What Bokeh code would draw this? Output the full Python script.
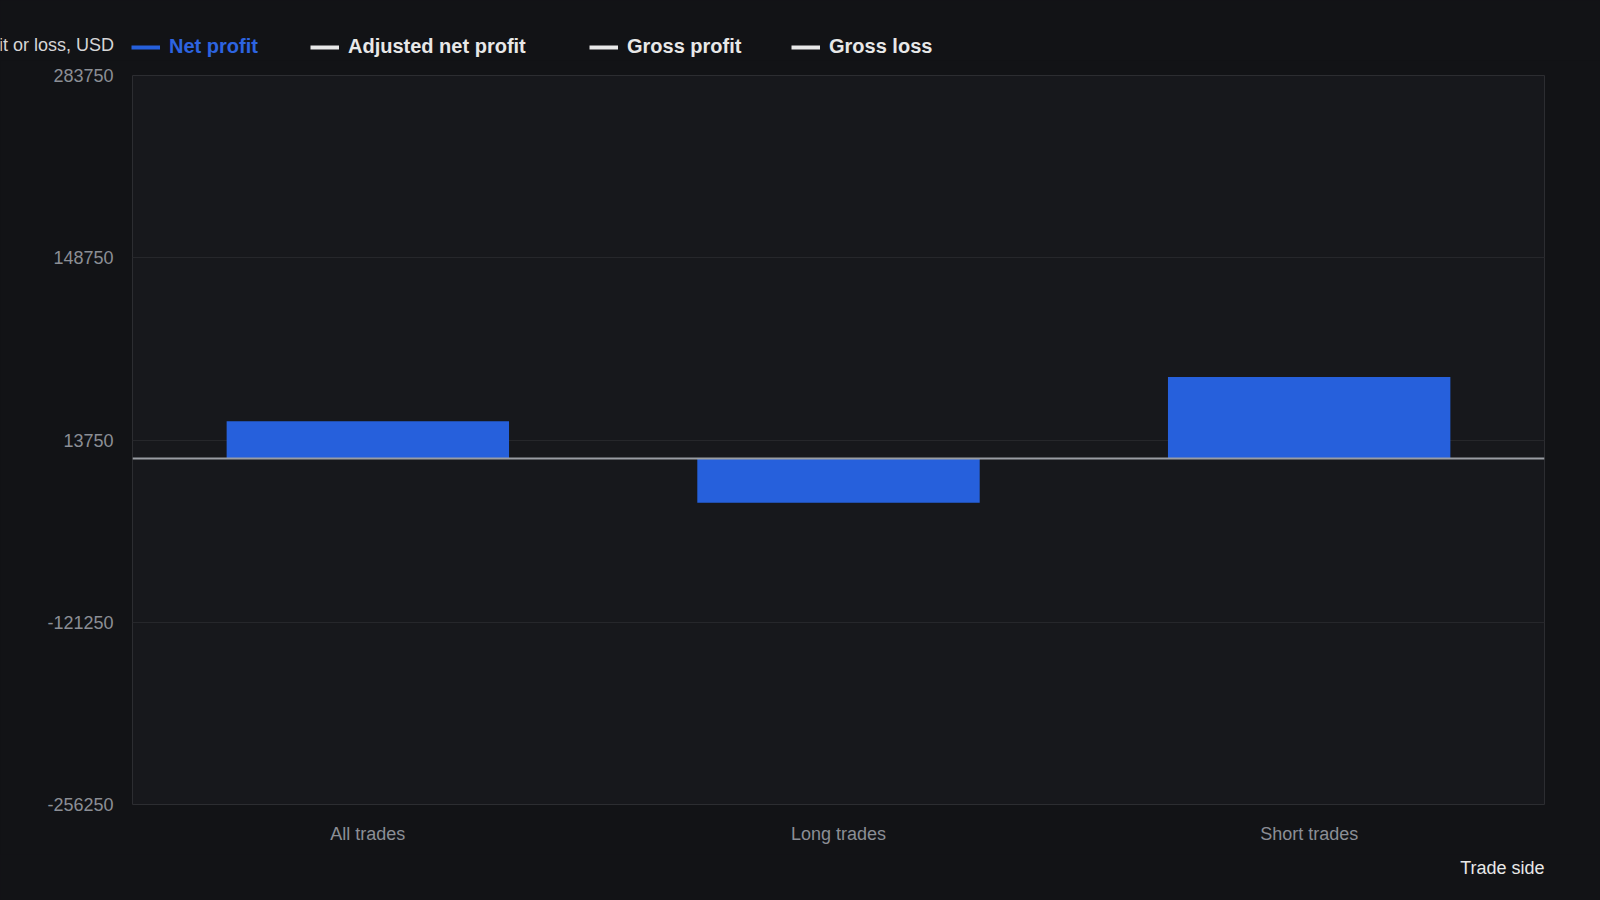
from bokeh.plotting import figure
from bokeh.layouts import column
from bokeh.models import (ColumnDataSource, FactorRange, Range1d, FixedTicker, Span,
                          Legend, LegendItem, Label, PrintfTickFormatter)
from bokeh.embed import file_html
from bokeh.resources import INLINE

# ---- data ----
categories = ["All trades", "Long trades", "Short trades"]
net_profit = [27700, -32650, 60350]
y_ticks = [-256250, -121250, 13750, 148750, 283750]
legend_labels = ["Net profit", "Adjusted net profit", "Gross profit", "Gross loss"]
y_title = "Net profit or loss, USD"
x_title = "Trade side"

FONT = "Liberation Sans"
BG_OUT = "#121316"
BG_IN = "#17181c"
BLUE = "#2660dc"
GREY_TXT = "#8b8e95"
WHITE = "#e8e8e8"

W = 1600
HEAD_H = 60
MT, MB = 15, 50
FH = 729
MAIN_H = MT + FH + MB
FOOT_H = 900 - HEAD_H - MAIN_H
ML, MR = 132, 56
FW = W - ML - MR


def blank(h):
    f = figure(width=W, height=h, output_backend="svg", toolbar_location=None,
               x_range=Range1d(0, W), y_range=Range1d(0, h),
               x_axis_location=None, y_axis_location=None, min_border=0,
               frame_align=False)
    f.background_fill_color = BG_OUT
    f.border_fill_color = BG_OUT
    f.outline_line_color = None
    f.grid.visible = False
    return f


# ---- header: legend and y title ----
head = blank(HEAD_H)
legend_colors = [BLUE, WHITE, WHITE, WHITE]
legend_text_colors = ["#2d64e0", WHITE, WHITE, WHITE]
legend_x = [131, 310, 589, 791]
nan = float("nan")
for lab, lc, tc, lx in zip(legend_labels, legend_colors, legend_text_colors, legend_x):
    r = head.line(x=[nan, nan], y=[nan, nan], line_color=lc, line_width=4)
    leg = Legend(items=[LegendItem(label=lab, renderers=[r])], location=(lx, 2),
                 orientation="horizontal", padding=0, margin=0, spacing=0,
                 glyph_width=29, glyph_height=20, label_standoff=9, label_height=20,
                 label_text_font=FONT, label_text_font_size="20px",
                 label_text_font_style="bold", label_text_color=tc,
                 background_fill_alpha=0, border_line_alpha=0)
    head.add_layout(leg)
head.add_layout(Label(x=113.5, y=HEAD_H - 44, text=y_title,
                      text_align="right", text_baseline="middle", text_font=FONT,
                      text_font_size="18px", text_color="#d6d6d6"))

# ---- main chart ----
src = ColumnDataSource(dict(cat=categories, val=net_profit))
p = figure(width=W, height=MAIN_H, output_backend="svg", toolbar_location=None,
           x_range=FactorRange(*categories, range_padding=0),
           y_range=Range1d(y_ticks[0], y_ticks[-1]),
           min_border_left=ML, min_border_right=MR, min_border_top=MT, min_border_bottom=MB,
           frame_align=False)
p.background_fill_color = BG_IN
p.border_fill_color = BG_OUT
p.outline_line_color = "#2c2d31"
p.outline_line_width = 1

p.vbar(x="cat", top="val", bottom=0, width=0.6, source=src, fill_color=BLUE, line_color=None)
p.add_layout(Span(location=0, dimension="width", line_color="#9a9da3", line_width=2))

p.yaxis.ticker = FixedTicker(ticks=y_ticks)
p.yaxis.formatter = PrintfTickFormatter(format="%d")
for ax in (p.xaxis[0], p.yaxis[0]):
    ax.axis_line_color = None
    ax.major_tick_line_color = None
    ax.minor_tick_line_color = None
    ax.major_tick_out = 0
    ax.major_tick_in = 0
    ax.major_label_text_color = GREY_TXT
    ax.major_label_text_font = FONT
    ax.major_label_text_font_size = "18px"
p.yaxis.major_label_standoff = 19
p.xaxis.major_label_standoff = 19

p.xgrid.grid_line_color = None
p.ygrid.grid_line_color = "#26272b"
p.ygrid.grid_line_width = 1

# ---- footer: x title ----
foot = blank(FOOT_H)
foot.add_layout(Label(x=ML + FW, y=FOOT_H - (867.5 - HEAD_H - MAIN_H), text=x_title,
                      text_align="right", text_baseline="middle", text_font=FONT,
                      text_font_size="18px", text_color=WHITE))

layout = column(head, p, foot, spacing=0)

html = file_html(layout, INLINE, title="chart")
html = html.replace("<head>", "<head><style>html,body{margin:0;padding:0;background:%s;overflow:hidden}</style>" % BG_OUT, 1)
open("out.html", "w").write(html)
